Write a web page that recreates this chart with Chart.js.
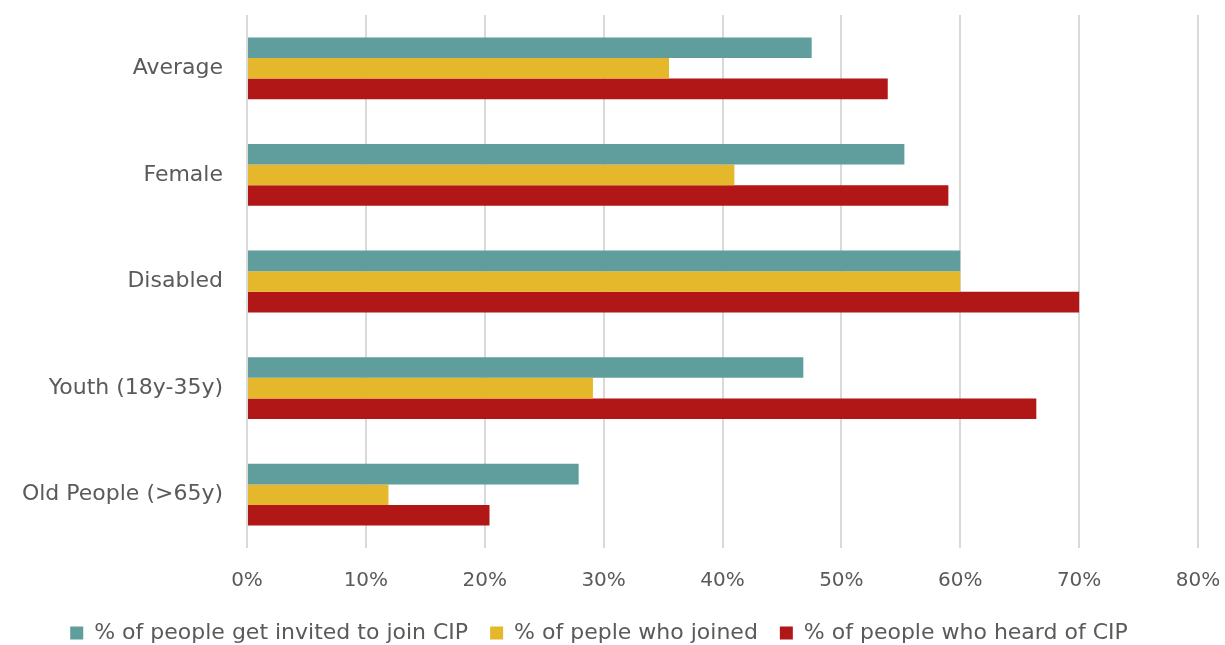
<!DOCTYPE html>
<html>
<head>
<meta charset="utf-8">
<script src="https://cdn.jsdelivr.net/npm/chart.js@4"></script>
<style>
  html, body { margin: 0; padding: 0; background: #fff; }
  .wrap { width: 1225px; height: 645px; position: relative; }
</style>
</head>
<body>
<div class="wrap"><canvas id="chart"></canvas></div>
<script>
// Data
const categories = ['Average', 'Female', 'Disabled', 'Youth (18y-35y)', 'Old People (>65y)'];
const invited = [47.5, 55.3, 60, 46.8, 27.9];
const joined = [35.5, 41.0, 60, 29.1, 11.9];
const heard = [53.9, 59.0, 70, 66.4, 20.4];
const seriesNames = ['% of people get invited to join CIP', '% of peple who joined', '% of people who heard of CIP'];
const xTicks = [0, 10, 20, 30, 40, 50, 60, 70, 80];

const font = "'DejaVu Sans', 'Open Sans', sans-serif";
const textColor = '#5a5a5a';

// keep the legend row short so the plot can go further down
const legendHeight = {
    id: 'legendHeight',
    beforeInit(chart) {
        const fit = chart.legend.fit;
        chart.legend.fit = function () {
            fit.call(this);
            this.height = 45;
        };
    }
};

const ctx = document.getElementById('chart').getContext('2d');
new Chart(ctx, {
    type: 'bar',
    data: {
        labels: categories,
        datasets: [
            { label: seriesNames[0], data: invited, backgroundColor: '#5f9e9c' },
            { label: seriesNames[1], data: joined, backgroundColor: '#e5b72a' },
            { label: seriesNames[2], data: heard, backgroundColor: '#b01716' }
        ]
    },
    plugins: [legendHeight],
    options: {
        indexAxis: 'y',
        responsive: true,
        maintainAspectRatio: false,
        animation: false,
        categoryPercentage: 0.58,
        barPercentage: 1.0,
        layout: { padding: { top: 15, right: 27, left: 0, bottom: 0 } },
        plugins: {
            legend: {
                position: 'bottom',
                labels: {
                    color: textColor,
                    font: { family: font, size: 22 },
                    boxWidth: 13,
                    boxHeight: 13,
                    padding: 22
                }
            },
            tooltip: { enabled: false }
        },
        scales: {
            x: {
                min: 0,
                max: 80,
                afterBuildTicks: axis => { axis.ticks = xTicks.map(v => ({ value: v })); },
                afterFit: axis => {
                    axis.paddingRight = 0;
                    axis.paddingLeft = 0;
                    axis.height = 52;
                },
                ticks: {
                    color: textColor,
                    font: { family: font, size: 20 },
                    padding: 21,
                    callback: v => v + '%'
                },
                grid: { color: '#d9d9d9', lineWidth: 2, drawTicks: false },
                border: { display: false }
            },
            y: {
                afterFit: axis => {
                    axis.width = 247;
                    axis.paddingTop = 0;
                    axis.paddingBottom = 0;
                },
                ticks: {
                    color: textColor,
                    font: { family: font, size: 22 },
                    padding: 16
                },
                grid: { display: false },
                border: { display: false }
            }
        }
    }
});
</script>
</body>
</html>
